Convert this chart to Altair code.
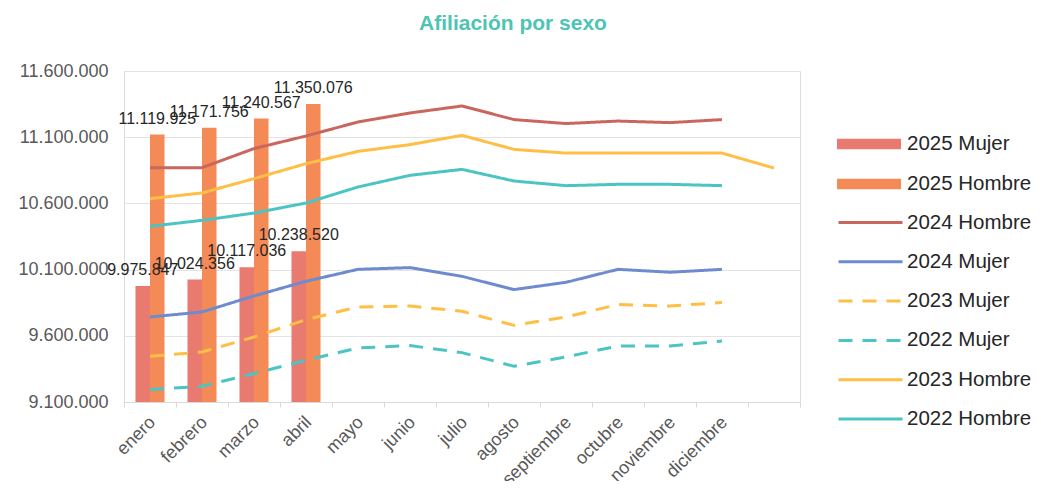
import altair as alt
import pandas as pd

meses = ["enero", "febrero", "marzo", "abril", "mayo", "junio", "julio", "agosto",
         "septiembre", "octubre", "noviembre", "diciembre", " "]

# 2025 bars
bar_series = ["2025 Mujer", "2025 Hombre"]
bar_colors = ["#E97A6F", "#F48A55"]
m2025 = [9975847, 10024356, 10117036, 10238520]
h2025 = [11119925, 11171756, 11240567, 11350076]

# Lines
line_series = ["2024 Hombre", "2024 Mujer", "2023 Mujer", "2022 Mujer", "2023 Hombre", "2022 Hombre"]
line_colors = ["#C9675F", "#6F8BD0", "#FFBE45", "#4CC4C4", "#FFBE45", "#4CC4C4"]
line_dashes = [[1, 0], [1, 0], [14, 10], [14, 10], [1, 0], [1, 0]]

h2024 = [10870000, 10870000, 11014000, 11109000, 11215000, 11283000, 11336000, 11233000,
         11203000, 11222000, 11210000, 11233000]
m2024 = [9742000, 9780000, 9901000, 10012000, 10102000, 10115000, 10049000, 9949000,
         10004000, 10102000, 10080000, 10102000]
m2023 = [9445000, 9478000, 9591000, 9722000, 9818000, 9825000, 9785000, 9679000,
         9742000, 9836000, 9825000, 9851000]
m2022 = [9194000, 9219000, 9315000, 9415000, 9508000, 9526000, 9473000, 9370000,
         9440000, 9523000, 9523000, 9561000]
h2023 = [10636000, 10679000, 10787000, 10900000, 10993000, 11044000, 11114000, 11008000,
         10980000, 10980000, 10980000, 10980000, 10867000]
h2022 = [10427000, 10472000, 10527000, 10603000, 10724000, 10812000, 10857000, 10769000,
         10734000, 10744000, 10744000, 10734000]

y_ticks = [9100000, 9600000, 10100000, 10600000, 11100000, 11600000]

line_values = {"2024 Hombre": h2024, "2024 Mujer": m2024, "2023 Mujer": m2023,
               "2022 Mujer": m2022, "2023 Hombre": h2023, "2022 Hombre": h2022}

rows = []
for s in line_series:
    for i, v in enumerate(line_values[s]):
        rows.append({"mes": meses[i], "serie": s, "valor": v})
lines_df = pd.DataFrame(rows)

brows = []
for s, vals in zip(bar_series, [m2025, h2025]):
    for i, v in enumerate(vals):
        brows.append({"mes": meses[i], "serie": s, "valor": v})
bars_df = pd.DataFrame(brows)

FONT = "Liberation Sans"

x_enc = alt.X("mes:N", sort=meses,
              scale=alt.Scale(domain=meses, paddingInner=0, paddingOuter=0),
              axis=alt.Axis(title=None, labelAngle=-45, tickBand="extent", grid=False,
                            domainColor="#d9d9d9", tickColor="#d9d9d9", tickSize=5,
                            labelColor="#595959", labelFontSize=18, labelFont=FONT,
                            labelPadding=6, labelOffset=-4))
y_scale = alt.Scale(domain=[9100000, 11600000], nice=False, zero=False)
y_axis = alt.Axis(title=None, values=y_ticks, grid=True, gridColor="#e3e3e3",
                  domain=False, ticks=False, labelPadding=16, labelFontSize=18,
                  labelFont=FONT, labelColor="#595959",
                  labelExpr="replace(format(datum.value, ','), regexp(',', 'g'), '.')")

xoff = alt.XOffset("serie:N", scale=alt.Scale(domain=bar_series, paddingInner=0, paddingOuter=0.79))

bars = alt.Chart(bars_df).mark_bar().encode(
    x=x_enc,
    xOffset=xoff,
    y=alt.Y("valor:Q", scale=y_scale, axis=y_axis),
    y2=alt.datum(9100000),
    fill=alt.Fill("serie:N",
                  scale=alt.Scale(domain=bar_series, range=bar_colors),
                  legend=alt.Legend(title=None, orient="none", legendX=734, legendY=62,
                                    symbolType="M-3,-0.5H3V0.5H-3Z", symbolSize=455,
                                    symbolStrokeWidth=0, labelOffset=27, rowPadding=18,
                                    labelFontSize=20.5, labelFont=FONT, labelColor="#262626",
                                    padding=0)),
)

labels = alt.Chart(bars_df).transform_calculate(
    lab="replace(format(datum.valor, ','), regexp(',', 'g'), '.')"
).mark_text(baseline="alphabetic", dy=-11, fontSize=16, font=FONT, color="#262626").encode(
    x=x_enc,
    xOffset=xoff,
    y=alt.Y("valor:Q", scale=y_scale),
    text="lab:N",
)

line_legend = alt.Legend(title=None, orient="none", legendX=734, legendY=139,
                         symbolType="M-3,0H3", symbolSize=455, symbolStrokeWidth=3,
                         labelOffset=24, rowPadding=16.3, labelFontSize=20.5, labelFont=FONT,
                         labelColor="#262626", padding=0)

lines = alt.Chart(lines_df).mark_line(strokeWidth=3).encode(
    x=x_enc,
    y=alt.Y("valor:Q", scale=y_scale),
    stroke=alt.Stroke("serie:N", scale=alt.Scale(domain=line_series, range=line_colors),
                      legend=line_legend),
    strokeDash=alt.StrokeDash("serie:N", scale=alt.Scale(domain=line_series, range=line_dashes),
                              legend=line_legend),
)

chart = alt.layer(bars, lines, labels).properties(
    width=676, height=331,
    title=alt.TitleParams("Afiliación por sexo", color="#4DC4B4", fontSize=21, font=FONT,
                          fontWeight="bold", anchor="middle", dx=51, offset=28),
    autosize=alt.AutoSizeParams(type="none"),
    padding={"left": 116, "top": 63, "right": 233, "bottom": 79},
).configure_view(stroke=None).configure(background="white")

chart.save("out.html", embed_options={"renderer": "svg", "actions": False})
